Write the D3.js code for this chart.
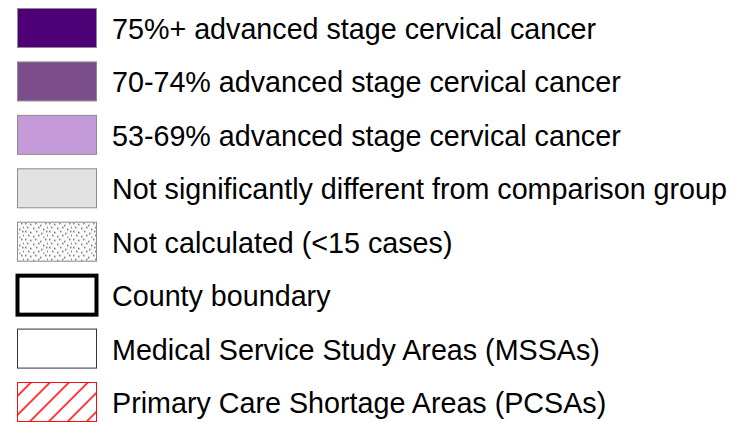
<!DOCTYPE html>
<html>
<head>
<meta charset="utf-8">
<script src="https://cdn.jsdelivr.net/npm/d3@7"></script>
<style>
  body { margin: 0; background: #fff; }
  svg { display: block; }
</style>
</head>
<body>
<div id="legend"></div>
<script>
// legend entries, top to bottom
const labels = [
    "75%+ advanced stage cervical cancer",
    "70-74% advanced stage cervical cancer",
    "53-69% advanced stage cervical cancer",
    "Not significantly different from comparison group",
    "Not calculated (<15 cases)",
    "County boundary",
    "Medical Service Study Areas (MSSAs)",
    "Primary Care Shortage Areas (PCSAs)"
];
const kinds = ["fill", "fill", "fill", "fill", "dots", "county", "mssa", "hatch"];
const fills = ["#4e0076", "#7b4e8b", "#c49bd8", "#e2e2e2", null, null, null, null];

const width = 734, height = 422;

const svg = d3.select('#legend')
    .append('svg')
    .attr('width', width)
    .attr('height', height);

const defs = svg.append('defs');

// stipple for "not calculated"
const dots = defs.append('pattern')
    .attr('id', 'dots')
    .attr('patternUnits', 'userSpaceOnUse')
    .attr('width', 24).attr('height', 16);
dots.append('rect').attr('width', 24).attr('height', 16).attr('fill', '#fafafa');
[[1,1],[6,2],[11,1],[16,3],[21,1],[3,5],[9,6],[14,5],[19,7],[23,5],
 [1,9],[6,10],[12,9],[17,11],[22,9],[4,13],[9,14],[14,13],[19,15],[23,13]]
    .forEach(([x, y]) => dots.append('rect')
        .attr('x', x).attr('y', y).attr('width', 1.5).attr('height', 1.5)
        .attr('fill', '#6f6f6f'));

// red diagonal hatch
const hatch = defs.append('pattern')
    .attr('id', 'hatch')
    .attr('patternUnits', 'userSpaceOnUse')
    .attr('width', 13.4).attr('height', 13.4)
    .attr('patternTransform', 'translate(3,0) rotate(45)');
hatch.append('line')
    .attr('x1', 6.7).attr('y1', -2).attr('x2', 6.7).attr('y2', 16)
    .attr('stroke', '#ff0000').attr('stroke-width', 1.5);

const y = d3.scaleBand()
    .domain(labels)
    .range([8, 8 + 53.43 * labels.length]);

const swX = 17.5, swW = 79, swH = 39;

const rows = svg.selectAll('g.row')
    .data(labels)
    .join('g')
    .attr('class', 'row')
    .attr('transform', d => `translate(0,${y(d)})`);

rows.append('rect')
    .attr('x', swX)
    .attr('y', 0.5)
    .attr('width', swW)
    .attr('height', swH)
    .attr('fill', (d, i) => {
        if (kinds[i] === 'fill') return fills[i];
        if (kinds[i] === 'dots') return 'url(#dots)';
        if (kinds[i] === 'hatch') return 'url(#hatch)';
        return '#fff';
    })
    .attr('stroke', (d, i) => {
        if (kinds[i] === 'county') return '#000';
        if (kinds[i] === 'mssa') return '#333';
        if (kinds[i] === 'hatch') return '#ee1111';
        return '#8c8c8c';
    })
    .attr('stroke-width', (d, i) => kinds[i] === 'county' ? 4 : 1);

rows.append('text')
    .attr('x', 112)
    .attr('y', 31)
    .attr('font-family', '"Liberation Sans", Arial, sans-serif')
    .attr('font-size', '28.7px')
    .attr('fill', '#000')
    .text(d => d);
</script>
</body>
</html>
